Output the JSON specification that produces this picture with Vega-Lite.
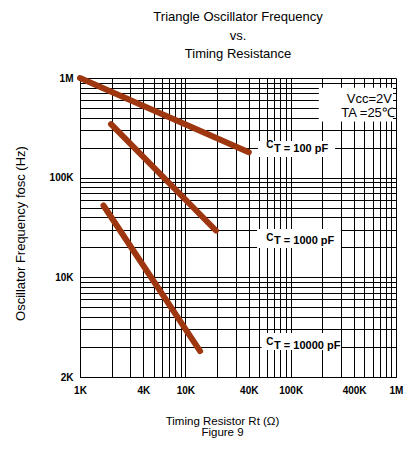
{
  "$schema": "https://vega.github.io/schema/vega-lite/v6.json",
  "width": 316,
  "height": 299,
  "autosize": {"type": "none"},
  "padding": {"left": 80, "top": 78, "right": 12, "bottom": 76},
  "background": "white",
  "config": {"font": "Liberation Sans", "view": {"stroke": null}},
  "title": {
    "text": ["Triangle Oscillator Frequency", "vs.", "Timing Resistance"],
    "fontSize": 13,
    "fontWeight": "normal",
    "lineHeight": 18.5,
    "offset": 5,
    "color": "#000",
    "font": "Liberation Sans"
  },
  "encoding": {
    "x": {
      "field": "r",
      "type": "quantitative",
      "scale": {"type": "log", "domain": [1000, 1000000], "nice": false},
      "axis": {
        "title": ["Timing Resistor Rt (Ω)", "Figure 9"],
        "values": [1000, 2000, 3000, 4000, 5000, 6000, 7000, 8000, 9000, 10000, 20000, 30000, 40000, 50000, 60000, 70000, 80000, 90000, 100000, 200000, 300000, 400000, 500000, 600000, 700000, 800000, 900000, 1000000],
        "labelExpr": "datum.value==1000?'1K':datum.value==4000?'4K':datum.value==10000?'10K':datum.value==40000?'40K':datum.value==100000?'100K':datum.value==400000?'400K':datum.value==1000000?'1M':''",
        "grid": true,
        "gridColor": "#000",
        "gridOpacity": 1,
        "ticks": false,
        "domainColor": "#000",
        "labelFont": "Liberation Sans",
        "labelFontWeight": "bold",
        "labelFontSize": 10,
        "labelColor": "#000",
        "labelPadding": 8,
        "labelDx": 4,
        "labelOverlap": false,
        "labelFlush": false,
        "labelBound": false,
        "titleFont": "Liberation Sans",
        "titleFontSize": 11.5,
        "titleFontWeight": "normal",
        "titleColor": "#000",
        "titleLineHeight": 11.5,
        "titleX": 142,
        "titleY": 38,
        "titleBaseline": "top"
      }
    },
    "y": {
      "field": "f",
      "type": "quantitative",
      "scale": {"type": "log", "domain": [1000, 1000000], "nice": false},
      "axis": {
        "title": "Oscillator Frequency fosc (Hz)",
        "values": [1000, 2000, 3000, 4000, 5000, 6000, 7000, 8000, 9000, 10000, 20000, 30000, 40000, 50000, 60000, 70000, 80000, 90000, 100000, 200000, 300000, 400000, 500000, 600000, 700000, 800000, 900000, 1000000],
        "labelExpr": "datum.value==1000?'2K':datum.value==10000?'10K':datum.value==100000?'100K':datum.value==1000000?'1M':''",
        "grid": true,
        "gridColor": "#000",
        "gridOpacity": 1,
        "ticks": false,
        "domainColor": "#000",
        "labelFont": "Liberation Sans",
        "labelFontWeight": "bold",
        "labelFontSize": 10,
        "labelColor": "#000",
        "labelPadding": 7,
        "labelOverlap": false,
        "labelFlush": false,
        "labelBound": false,
        "titleFont": "Liberation Sans",
        "titleFontSize": 13,
        "titleFontWeight": "normal",
        "titleColor": "#000",
        "titleX": -60,
        "titleY": 155,
        "titleAngle": 270,
        "titleAlign": "center",
        "titleBaseline": "middle"
      }
    }
  },
  "layer": [
    {
      "data": {"values": [
        {"r": 49000, "r2": 264000, "f": 233000, "f2": 161000},
        {"r": 48000, "r2": 300000, "f": 30500, "f2": 19700},
        {"r": 53000, "r2": 300000, "f": 2760, "f2": 1870},
        {"r": 185000, "r2": 937000, "f": 800000, "f2": 365000}
      ]},
      "mark": {"type": "rect", "fill": "white", "stroke": null},
      "encoding": {"x2": {"field": "r2"}, "y2": {"field": "f2"}}
    },
    {
      "data": {"values": [
        {"series": "100 pF", "r": 1000, "f": 1000000},
        {"series": "100 pF", "r": 40000, "f": 180000},
        {"series": "1000 pF", "r": 1970, "f": 345000},
        {"series": "1000 pF", "r": 19500, "f": 29500},
        {"series": "10000 pF", "r": 1670, "f": 52600},
        {"series": "10000 pF", "r": 13800, "f": 1820}
      ]},
      "mark": {"type": "line", "color": "#9E3710", "strokeWidth": 6, "strokeCap": "round", "clip": false},
      "encoding": {"detail": {"field": "series"}}
    },
    {
      "data": {"values": [
        {"r": 58500, "f": 214000, "text": "C"},
        {"r": 58500, "f": 25000, "text": "C"},
        {"r": 58500, "f": 2270, "text": "C"}
      ]},
      "mark": {"type": "text", "align": "left", "baseline": "middle", "fontSize": 10, "fontWeight": "bold", "color": "#000", "font": "Liberation Sans"},
      "encoding": {"text": {"field": "text"}}
    },
    {
      "data": {"values": [
        {"r": 69500, "f": 195000, "text": "T = 100 pF"},
        {"r": 69500, "f": 22900, "text": "T = 1000 pF"},
        {"r": 69500, "f": 2050, "text": "T = 10000 pF"}
      ]},
      "mark": {"type": "text", "align": "left", "baseline": "middle", "fontSize": 11, "fontWeight": "bold", "color": "#000", "font": "Liberation Sans"},
      "encoding": {"text": {"field": "text"}}
    },
    {
      "data": {"values": [
        {"r": 915000, "f": 618000, "text": "Vcc=2V"},
        {"r": 975000, "f": 448000, "text": "TA =25℃"}
      ]},
      "mark": {"type": "text", "align": "right", "baseline": "middle", "fontSize": 13, "fontWeight": "normal", "color": "#000", "font": "Liberation Sans"},
      "encoding": {"text": {"field": "text"}}
    }
  ]
}
